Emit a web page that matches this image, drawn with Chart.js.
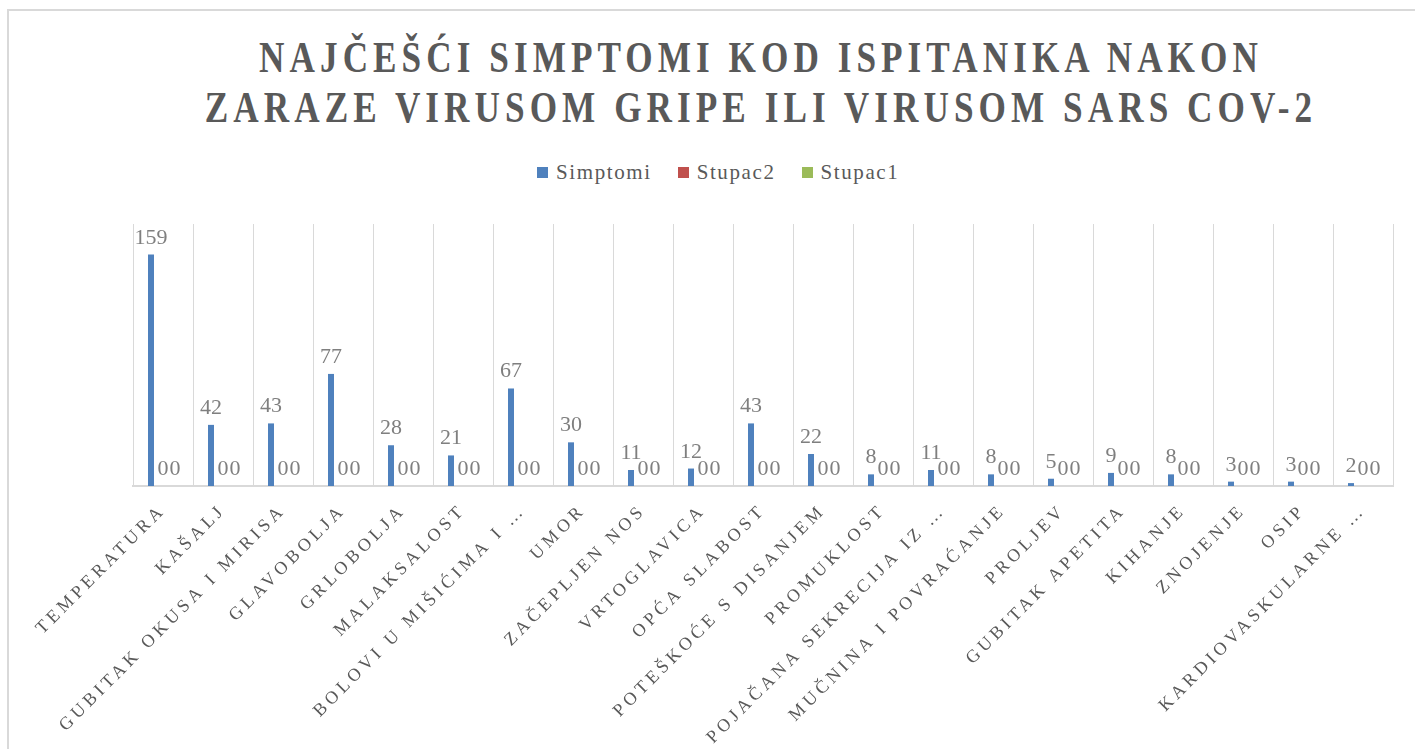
<!DOCTYPE html>
<html lang="hr">
<head>
    <meta charset="UTF-8">
    <title>Najčešći simptomi</title>
    <script src="https://cdn.jsdelivr.net/npm/chart.js"></script>
    <style>
        html, body { margin: 0; padding: 0; background: #fff; overflow: hidden; }
        body { width: 1415px; height: 749px; position: relative; }
        .frame {
            position: absolute; left: 7px; top: 9px; width: 1500px; height: 800px;
            border-left: 2px solid #d9d9d9; border-top: 2px solid #d9d9d9;
        }
        .title-line {
            position: absolute; left: 761px; white-space: nowrap;
            font-family: "Liberation Serif", "Times New Roman", serif; font-weight: bold; font-size: 44px;
            line-height: 50px; color: #595959; letter-spacing: 6.3px;
            transform: translateX(-50%) scaleX(0.8);
        }
        .legend {
            position: absolute; left: 537px; top: 160px; display: flex; align-items: center;
            font-family: "Liberation Serif", "Times New Roman", serif; font-size: 21px;
            letter-spacing: 1.6px; color: #595959;
        }
        .legend .box { width: 11px; height: 11px; margin-right: 8px; }
        .legend .item { display: flex; align-items: center; margin-right: 26px; }
        canvas { position: absolute; left: 0; top: 0; }
    </style>
</head>
<body>
    <div class="frame"></div>
    <div class="title-line" style="top: 33px;">NAJČEŠĆI SIMPTOMI KOD ISPITANIKA NAKON</div>
    <div class="title-line" style="top: 83px;">ZARAZE VIRUSOM GRIPE ILI VIRUSOM SARS COV-2</div>
    <div class="legend" id="legend"></div>
    <canvas id="chart" width="1415" height="749"></canvas>

    <script>
        const categories = [
            'TEMPERATURA', 'KAŠALJ', 'GUBITAK OKUSA I MIRISA', 'GLAVOBOLJA', 'GRLOBOLJA',
            'MALAKSALOST', 'BOLOVI U MIŠIĆIMA I …', 'UMOR', 'ZAČEPLJEN NOS', 'VRTOGLAVICA',
            'OPĆA SLABOST', 'POTEŠKOĆE S DISANJEM', 'PROMUKLOST', 'POJAČANA SEKRECIJA IZ …',
            'MUČNINA I POVRAĆANJE', 'PROLJEV', 'GUBITAK APETITA', 'KIHANJE', 'ZNOJENJE',
            'OSIP', 'KARDIOVASKULARNE …'
        ];
        const simptomi = [159, 42, 43, 77, 28, 21, 67, 30, 11, 12, 43, 22, 8, 11, 8, 5, 9, 8, 3, 3, 2];
        const stupac2 = [0, 0, 0, 0, 0, 0, 0, 0, 0, 0, 0, 0, 0, 0, 0, 0, 0, 0, 0, 0, 0];
        const stupac1 = [0, 0, 0, 0, 0, 0, 0, 0, 0, 0, 0, 0, 0, 0, 0, 0, 0, 0, 0, 0, 0];

        const series = [
            { label: 'Simptomi', data: simptomi, color: '#4F81BD' },
            { label: 'Stupac2', data: stupac2, color: '#C0504D' },
            { label: 'Stupac1', data: stupac1, color: '#9BBB59' }
        ];

        // HTML legend
        const legend = document.getElementById('legend');
        series.forEach(s => {
            const item = document.createElement('div');
            item.className = 'item';
            item.innerHTML = `<span class="box" style="background:${s.color}"></span><span>${s.label}</span>`;
            legend.appendChild(item);
        });

        // letter spacing for axis labels, none for value labels
        const spacingPlugin = {
            id: 'spacing',
            beforeUpdate(chart) { chart.ctx.letterSpacing = '4px'; },
            beforeDraw(chart) { chart.ctx.letterSpacing = '4px'; },
            beforeDatasetsDraw(chart) { chart.ctx.letterSpacing = '0px'; }
        };

        // value labels above each bar
        const valueLabels = {
            id: 'valueLabels',
            afterDatasetsDraw(chart) {
                const ctx = chart.ctx;
                ctx.save();
                ctx.letterSpacing = '0px';
                ctx.font = '22px "Liberation Serif", "Times New Roman", serif';
                ctx.fillStyle = '#7f7f7f';
                ctx.textAlign = 'center';
                ctx.textBaseline = 'alphabetic';
                chart.data.datasets.forEach((ds, i) => {
                    chart.getDatasetMeta(i).data.forEach((bar, j) => {
                        ctx.fillText(String(ds.data[j]), bar.x, bar.y - 11);
                    });
                });
                ctx.restore();
            }
        };

        new Chart(document.getElementById('chart'), {
            type: 'bar',
            data: {
                labels: categories,
                datasets: series.map(s => ({
                    label: s.label,
                    data: s.data,
                    backgroundColor: s.color,
                    borderWidth: 0,
                    categoryPercentage: 0.6,
                    barPercentage: 0.5
                }))
            },
            options: {
                responsive: false,
                animation: false,
                layout: { padding: { left: 133, right: 22, top: 224, bottom: 0 } },
                plugins: {
                    legend: { display: false },
                    title: { display: false },
                    tooltip: { enabled: false }
                },
                scales: {
                    x: {
                        grid: { color: '#d9d9d9', lineWidth: 1, offset: true, drawTicks: false },
                        border: { color: '#d9d9d9', width: 2 },
                        ticks: {
                            autoSkip: false,
                            minRotation: 45,
                            maxRotation: 45,
                            padding: 14,
                            color: '#595959',
                            font: { family: '"Liberation Serif", "Times New Roman", serif', size: 18 }
                        },
                        afterFit(scale) { scale.height = 263; }
                    },
                    y: {
                        display: false,
                        min: 0,
                        max: 180
                    }
                }
            },
            plugins: [spacingPlugin, valueLabels]
        });
    </script>
</body>
</html>
